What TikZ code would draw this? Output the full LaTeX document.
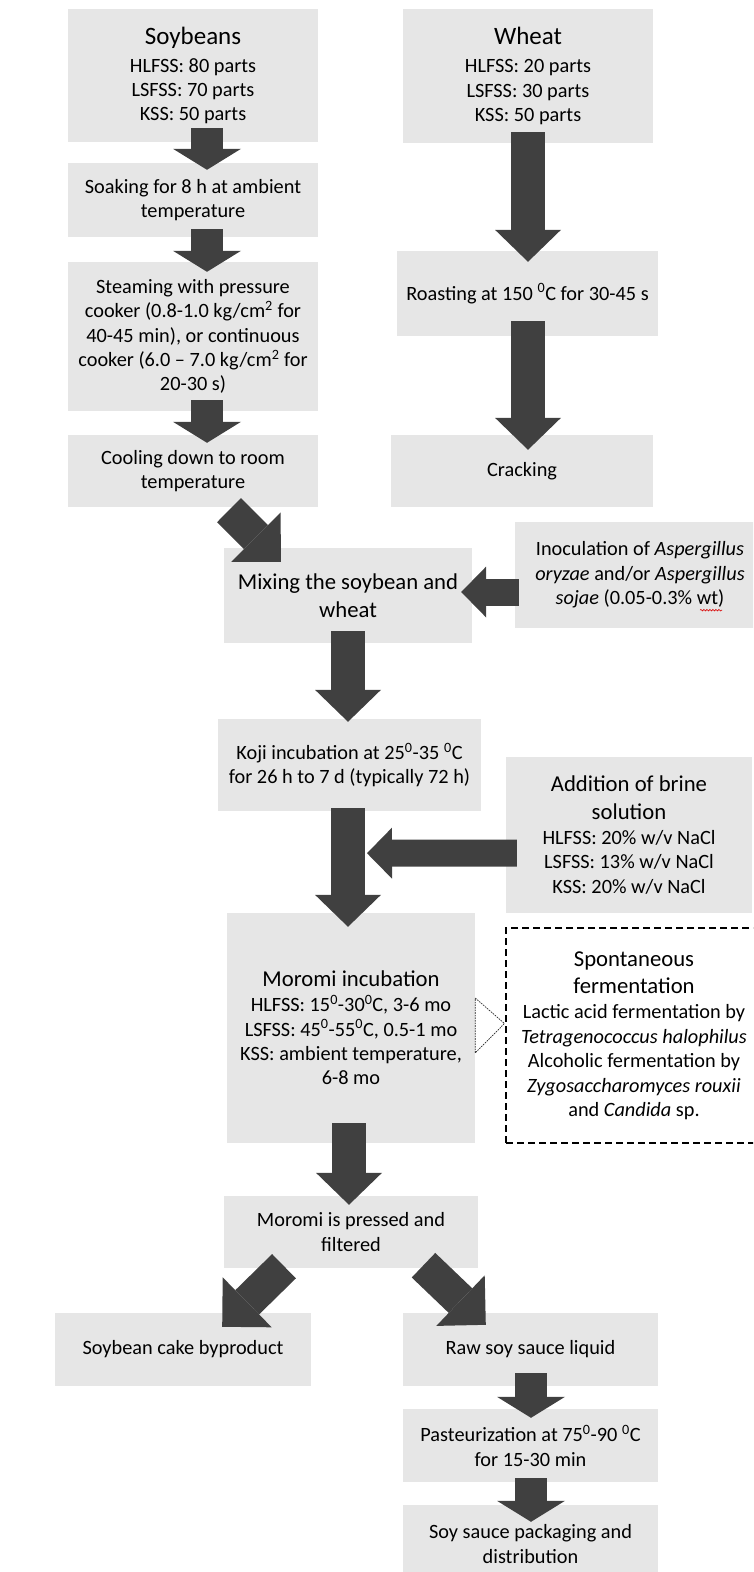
\documentclass[tikz,border=0pt]{standalone}
\usepackage{fontspec}
\setmainfont{Carlito}
\usetikzlibrary{arrows.meta,calc,decorations.pathmorphing}

\definecolor{boxgray}{RGB}{230,230,230}
\definecolor{arrowgray}{RGB}{64,64,64}
\newcommand{\bodysize}{\fontsize{20.3}{24.4}\selectfont}
\newcommand{\headsize}{\fontsize{25}{30}\selectfont}
\newcommand{\midsize}{\fontsize{22.7}{27.7}\selectfont}
\newcommand{\degr}{\textsuperscript{0}}

\tikzset{
  stepbox/.style={fill=boxgray, inner sep=0pt, align=center, font=\bodysize},
  dashbox/.style={draw=black, dash pattern=on 7pt off 4pt, line width=1.1pt, inner sep=0pt, align=center, font=\bodysize},
  shortarrow/.style={draw=arrowgray, line width=32pt, -{Triangle[width=68pt,length=21pt,line width=0pt]}},
  longarrow/.style={draw=arrowgray, line width=34pt, -{Triangle[width=66pt,length=32pt,line width=0pt]}},
  sidearrow/.style={draw=arrowgray, line width=27pt, -{Triangle[width=51pt,length=25pt,line width=0pt]}},
  diagarrow/.style={draw=arrowgray, line width=34pt, -{Triangle[width=70pt,length=35pt,line width=0pt]}},
}

\begin{document}
\begin{tikzpicture}[x=1pt,y=-1pt]
    \useasboundingbox (0,0) rectangle (753,1572);
    \clip (0,0) rectangle (753,1572);

    % Soybean line
    \node[stepbox, minimum width=250pt, minimum height=133pt] (soy) at (193,75.5)
        {{\headsize Soybeans}\\[3.6pt] HLFSS: 80 parts\\ LSFSS: 70 parts\\ KSS: 50 parts};
    \node[stepbox, minimum width=250pt, minimum height=74pt] (soak) at (193,200)
        {Soaking for 8 h at ambient\\ temperature};
    \node[stepbox, minimum width=250pt, minimum height=149pt] (steam) at (193,336.5)
        {Steaming with pressure\\ cooker (0.8-1.0 kg/cm\textsuperscript{2} for\\ 40-45 min), or continuous\\ cooker (6.0 -- 7.0 kg/cm\textsuperscript{2} for\\ 20-30 s)};
    \node[stepbox, minimum width=250pt, minimum height=72pt] (cool) at (193,471)
        {Cooling down to room\\ temperature};

    % Wheat line
    \node[stepbox, minimum width=250pt, minimum height=134pt] (wheat) at (528,76)
        {{\headsize Wheat}\\[3.6pt] HLFSS: 20 parts\\ LSFSS: 30 parts\\ KSS: 50 parts};
    \node[stepbox, minimum width=261pt, minimum height=85pt] (roast) at (527.5,293.5)
        {Roasting at 150 \degr C for 30-45 s};
    \node[stepbox, minimum width=262pt, minimum height=72pt] (crack) at (522,471)
        {Cracking};

    % Koji and moromi
    \node[stepbox, minimum width=248pt, minimum height=95pt, font=\midsize] (mix) at (348,595.5)
        {Mixing the soybean and\\ wheat};
    \node[stepbox, minimum width=250pt, minimum height=106pt] (inoc) at (640,575)
        {Inoculation of \textit{Aspergillus}\\ \textit{oryzae} and/or \textit{Aspergillus}\\ \textit{sojae} (0.05-0.3\% wt)};
    \node[stepbox, minimum width=263pt, minimum height=92pt] (koji) at (349.5,765)
        {Koji incubation at 25\degr-35 \degr C\\ for 26 h to 7 d (typically 72 h)};
    \node[stepbox, minimum width=246pt, minimum height=156pt] (brine) at (629,835)
        {{\midsize Addition of brine}\\[3.6pt] {\midsize solution}\\[0.6pt] HLFSS: 20\% w/v NaCl\\ LSFSS: 13\% w/v NaCl\\ KSS: 20\% w/v NaCl};
    \node[stepbox, minimum width=248pt, minimum height=230pt] (moromi) at (351,1028)
        {{\midsize Moromi incubation}\\[0.6pt] HLFSS: 15\degr-30\degr C, 3-6 mo\\ LSFSS: 45\degr-55\degr C, 0.5-1 mo\\ KSS: ambient temperature,\\ 6-8 mo};
    \node[dashbox, minimum width=256pt, minimum height=215pt] (spont) at (634,1035.5)
        {{\midsize Spontaneous}\\[3pt] {\midsize fermentation}\\[1pt] Lactic acid fermentation by\\ \textit{Tetragenococcus halophilus}\\ Alcoholic fermentation by\\ \textit{Zygosaccharomyces rouxii}\\ and \textit{Candida} sp.};

    % Pressing and products
    \node[stepbox, minimum width=254pt, minimum height=72pt] (press) at (351,1232)
        {Moromi is pressed and\\ filtered};
    \node[stepbox, minimum width=256pt, minimum height=73pt] (cake) at (183,1349.5)
        {Soybean cake byproduct};
    \node[stepbox, minimum width=255pt, minimum height=73pt] (raw) at (530.5,1349.5)
        {Raw soy sauce liquid};
    \node[stepbox, minimum width=255pt, minimum height=73pt] (past) at (530.5,1445.5)
        {Pasteurization at 75\degr-90 \degr C\\ for 15-30 min};
    \node[stepbox, minimum width=255pt, minimum height=78pt] (pack) at (530.5,1544)
        {Soy sauce packaging and\\ distribution};

    % spell check mark
    \draw[red!85!black, line width=0.6pt, decorate, decoration={snake, amplitude=0.8pt, segment length=3pt}]
        ($(inoc.south)+(60,-18)$) -- ($(inoc.south)+(82,-18)$);

    % Arrows, soybean side
    \draw[shortarrow] ($(soy.south)+(14,-14)$) -- ($(soak.north)+(14,7)$);
    \draw[shortarrow] ($(soak.south)+(14,-8)$) -- ($(steam.north)+(14,10)$);
    \draw[shortarrow] ($(steam.south)+(14,-11)$) -- ($(cool.north)+(14,8)$);
    \draw[diagarrow] ($(cool.south)+(36,3)$) -- ($(mix.north west)+(57,14)$);

    % Arrows, wheat side
    \draw[longarrow] ($(wheat.south)+(0,-11)$) -- ($(roast.north)+(0.5,11)$);
    \draw[longarrow] ($(roast.south)+(0.5,-15)$) -- ($(roast.south |- crack.north)+(0.5,15)$);

    % Arrows, koji and moromi
    \draw[sidearrow] ($(inoc.west)+(4,17)$) -- ($(mix.east)+(-11,-3.5)$);
    \draw[longarrow] ($(mix.south)+(0,-12)$) -- ($(koji.north)+(-1.5,3)$);
    \draw[longarrow] ($(koji.south)+(-1.5,-3)$) -- ($(moromi.north)+(-3,14)$);
    \coordinate (kojishaft) at ($(koji.south)+(17.5,42)$);
    \draw[sidearrow] ($(brine.west)+(11,18)$) -- (kojishaft);
    \draw[dash pattern=on 1.6pt off 1pt, line width=0.7pt, draw=black!85] ($(moromi.east)+(0,-30)$) -- ($(spont.west)+(-1,-12)$) -- ($(moromi.east)+(0,25)$) -- cycle;
    \draw[longarrow] ($(moromi.south)+(-2,-20)$) -- ($(press.north)+(-2,9)$);

    % Arrows, products
    \draw[diagarrow] ($(press.south)+(-67,-2)$) -- ($(cake.north east)+(-89,14)$);
    \draw[diagarrow] ($(press.south)+(72.5,-3)$) -- ($(raw.north west)+(83,12)$);
    \draw[shortarrow] ($(raw.south)+(0.5,-13)$) -- ($(past.north)+(0.5,9)$);
    \draw[shortarrow] ($(past.south)+(0.5,-4)$) -- ($(pack.north)+(0.5,17)$);
\end{tikzpicture}
\end{document}
